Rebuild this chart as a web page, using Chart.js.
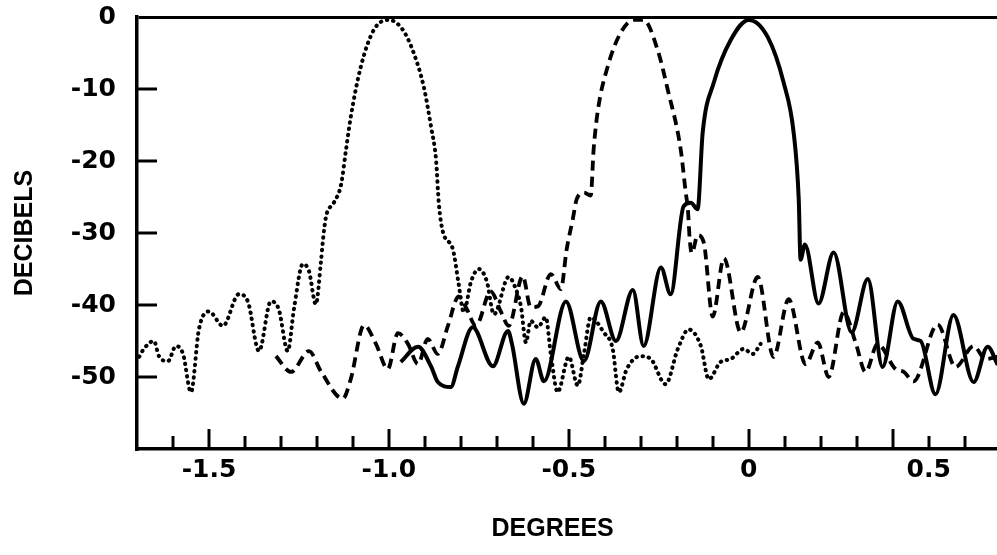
<!DOCTYPE html>
<html>
<head>
<meta charset="utf-8">
<title>Beam patterns</title>
<script src="https://cdn.jsdelivr.net/npm/chart.js@4.4.1/dist/chart.umd.min.js"></script>
<style>
  html, body { margin: 0; padding: 0; background: #fff; }
  canvas { display: block; }
</style>
</head>
<body>
<canvas id="chart" width="997" height="555"></canvas>
<script>
// Three beam patterns (angle in degrees, level in dB)

// solid - beam steered to 0
const solidDeg = [-0.967, -0.919, -0.883, -0.864, -0.828, -0.808, -0.767, -0.711, -0.669, -0.658,
  -0.625, -0.592, -0.569, -0.508, -0.458, -0.411, -0.369, -0.322, -0.292, -0.244,
  -0.217, -0.181, -0.161, -0.142, -0.128, -0.097, -0.050, 0, 0.053, 0.097,
  0.125, 0.139, 0.144, 0.156, 0.194, 0.236, 0.286, 0.331, 0.372, 0.414,
  0.458, 0.478, 0.519, 0.569, 0.625, 0.664, 0.692];
const solidDb = [-47.9, -45.8, -48.5, -50.7, -51.4, -48.5, -43.1, -48.5, -43.6, -45.4,
  -53.7, -47.5, -50.6, -39.5, -47.8, -39.5, -45.0, -37.9, -45.7, -34.8,
  -38.5, -26.3, -25.8, -26.7, -16.1, -9.1, -3.2, -0.4, -2.8, -9.1,
  -16.1, -25.3, -33.7, -31.6, -39.8, -32.7, -43.8, -36.4, -48.6, -39.5,
  -44.7, -45.0, -52.4, -41.4, -50.7, -45.8, -48.3];

// dashed - beam steered to -0.3
const dashedDeg = [-1.314, -1.272, -1.222, -1.189, -1.128, -1.106, -1.069, -1.036, -1.003, -0.975,
  -0.947, -0.919, -0.892, -0.864, -0.836, -0.806, -0.786, -0.758, -0.717, -0.689,
  -0.667, -0.628, -0.606, -0.586, -0.550, -0.522, -0.506, -0.489, -0.478, -0.458,
  -0.439, -0.431, -0.419, -0.392, -0.356, -0.319, -0.292, -0.253, -0.225, -0.189,
  -0.175, -0.169, -0.164, -0.158, -0.142, -0.125, -0.100, -0.069, -0.022, 0.025,
  0.069, 0.111, 0.158, 0.192, 0.222, 0.264, 0.297, 0.325, 0.358, 0.408,
  0.431, 0.458, 0.525, 0.575, 0.625, 0.658, 0.692];
const dashedDb = [-47.1, -49.3, -46.4, -49.2, -53.0, -50.3, -42.8, -45.4, -48.9, -43.9,
  -45.4, -48.2, -44.7, -46.8, -42.9, -38.8, -40.3, -42.9, -38.1, -40.9,
  -42.9, -36.0, -40.3, -40.2, -35.7, -37.8, -32.3, -28.1, -25.3, -24.4,
  -24.8, -18.4, -12.9, -6.9, -2.2, -0.4, -0.4, -4.6, -10.1, -18.4,
  -24.4, -26.7, -30.9, -32.8, -30.3, -31.3, -41.6, -33.5, -43.8, -36.1,
  -47.2, -39.2, -48.2, -45.2, -50.0, -41.0, -45.2, -49.3, -45.4, -48.9,
  -49.3, -50.6, -42.7, -48.6, -45.7, -47.5, -47.2];

// dotted - beam steered to -1.0
const dottedDeg = [-1.694, -1.681, -1.653, -1.639, -1.614, -1.592, -1.572, -1.550, -1.528, -1.500,
  -1.461, -1.417, -1.392, -1.361, -1.328, -1.306, -1.281, -1.264, -1.239, -1.222,
  -1.203, -1.189, -1.183, -1.175, -1.153, -1.133, -1.119, -1.106, -1.078, -1.042,
  -1.000, -0.961, -0.931, -0.903, -0.883, -0.869, -0.861, -0.850, -0.822, -0.806,
  -0.792, -0.772, -0.750, -0.728, -0.708, -0.667, -0.647, -0.633, -0.619, -0.606,
  -0.586, -0.564, -0.550, -0.531, -0.500, -0.475, -0.458, -0.439, -0.403, -0.378,
  -0.361, -0.339, -0.300, -0.272, -0.231, -0.197, -0.167, -0.133, -0.111, -0.078,
  -0.050, -0.014, 0.011, 0.033];
const dottedDb = [-47.2, -46.1, -45.0, -47.1, -47.8, -45.7, -46.8, -52.1, -43.4, -40.9,
  -42.9, -38.5, -39.5, -46.4, -39.5, -40.6, -46.4, -40.6, -34.3, -35.3,
  -39.9, -34.1, -30.9, -27.8, -25.8, -23.3, -18.4, -13.9, -6.9, -1.8,
  -0.4, -1.8, -5.0, -9.7, -15.2, -19.8, -26.0, -29.8, -32.3, -37.1,
  -41.0, -36.8, -35.0, -36.7, -41.3, -36.1, -37.8, -40.2, -45.2, -42.2,
  -43.1, -41.7, -46.8, -52.1, -47.2, -51.2, -46.8, -41.7, -43.8, -46.1,
  -52.1, -48.9, -47.1, -47.5, -51.0, -46.1, -43.4, -45.7, -50.3, -47.9,
  -47.5, -46.1, -46.8, -45.4];

// axis ticks
const xTickLabels = [-1.5, -1.0, -0.5, 0, 0.5];
const xTickMarks = [-1.6, -1.5, -1.4, -1.3, -1.2, -1.1, -1.0, -0.9, -0.8, -0.7, -0.6, -0.5,
  -0.4, -0.3, -0.2, -0.1, 0, 0.1, 0.2, 0.3, 0.4, 0.5, 0.6];
const xLongMarks = [-1.5, -1.0, -0.5, 0, 0.4];
const yTickLabels = [0, -10, -20, -30, -40, -50];
const xTitle = 'DEGREES';
const yTitle = 'DECIBELS';

function toPoints(xs, ys) {
    return xs.map((x, i) => ({ x: x, y: ys[i] }));
}

const labelFont = { family: "'DejaVu Sans', sans-serif", size: 25, weight: 'bold' };
const titleFont = { family: "'Liberation Sans', sans-serif", size: 25, weight: 'bold' };

// tick marks drawn inward from the axes, and the x axis title
const inwardTicks = {
    id: 'inwardTicks',
    afterDatasetsDraw(chart) {
        const { ctx, chartArea, scales } = chart;
        ctx.save();
        ctx.strokeStyle = '#000';
        ctx.lineWidth = 3;
        xTickMarks.forEach(v => {
            const px = Math.round(scales.x.getPixelForValue(v));
            const len = xLongMarks.includes(v) ? 20 : 13;
            ctx.beginPath();
            ctx.moveTo(px, chartArea.bottom);
            ctx.lineTo(px, chartArea.bottom - len);
            ctx.stroke();
        });
        yTickLabels.filter(v => v < 0).forEach(v => {
            const py = Math.round(scales.y.getPixelForValue(v));
            ctx.beginPath();
            ctx.moveTo(chartArea.left, py);
            ctx.lineTo(chartArea.left + 20, py);
            ctx.stroke();
        });
        // x title sits a bit left of the plot centre in the original
        ctx.fillStyle = '#000';
        ctx.font = 'bold 25px "Liberation Sans", sans-serif';
        ctx.textAlign = 'center';
        ctx.textBaseline = 'middle';
        ctx.fillText(xTitle, scales.x.getPixelForValue(-0.545), 529);
        ctx.restore();
    }
};

new Chart(document.getElementById('chart'), {
    type: 'line',
    data: {
        datasets: [
            {
                label: 'solid',
                data: toPoints(solidDeg, solidDb),
                borderColor: '#000',
                borderWidth: 4,
                borderJoinStyle: 'round',
                cubicInterpolationMode: 'monotone'
            },
            {
                label: 'dashed',
                data: toPoints(dashedDeg, dashedDb),
                borderColor: '#000',
                borderWidth: 3.8,
                borderDash: [10, 6],
                cubicInterpolationMode: 'monotone'
            },
            {
                label: 'dotted',
                data: toPoints(dottedDeg, dottedDb),
                borderColor: '#000',
                borderWidth: 4,
                borderDash: [0.5, 5.8],
                borderCapStyle: 'round',
                cubicInterpolationMode: 'monotone'
            }
        ]
    },
    options: {
        responsive: false,
        animation: false,
        layout: { padding: { top: 17, right: 0, left: 0, bottom: 0 } },
        elements: { point: { radius: 0 } },
        plugins: { legend: { display: false }, tooltip: { enabled: false } },
        scales: {
            x: {
                type: 'linear',
                min: -1.7,
                max: 0.69,
                afterFit: scale => {
                    scale.height = 106;
                    scale.paddingLeft = 0;
                    scale.paddingRight = 0;
                },
                afterBuildTicks: scale => { scale.ticks = xTickLabels.map(v => ({ value: v })); },
                grid: { display: false, drawTicks: false },
                border: { color: '#000', width: 3.5 },
                ticks: {
                    color: '#000',
                    font: labelFont,
                    padding: 6,
                    maxRotation: 0,
                    callback: v => v === 0 ? '0' : v.toFixed(1)
                },
                title: { display: false }
            },
            y: {
                type: 'linear',
                min: -60,
                max: 0,
                afterFit: scale => {
                    scale.width = 137;
                    scale.paddingTop = 0;
                    scale.paddingBottom = 0;
                },
                afterBuildTicks: scale => { scale.ticks = yTickLabels.map(v => ({ value: v })); },
                grid: {
                    drawTicks: false,
                    lineWidth: 3,
                    color: ctx => ctx.tick && ctx.tick.value === 0 ? '#000' : 'rgba(0,0,0,0)'
                },
                border: { color: '#000', width: 3.5 },
                ticks: {
                    color: '#000',
                    font: labelFont,
                    padding: 21,
                    callback: v => String(v)
                },
                title: {
                    display: true,
                    text: yTitle,
                    color: '#000',
                    font: titleFont,
                    padding: { top: 10, bottom: 0 }
                }
            }
        }
    },
    plugins: [inwardTicks]
});
</script>
</body>
</html>
